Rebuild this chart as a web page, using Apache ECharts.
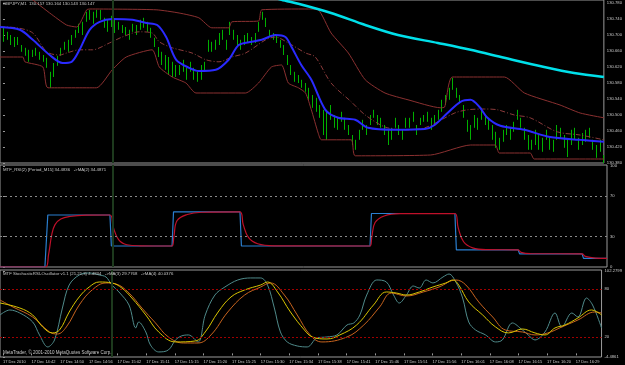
<!DOCTYPE html>
<html><head><meta charset="utf-8">
<script src="https://cdn.jsdelivr.net/npm/echarts@6/dist/echarts.min.js"></script>
<style>html,body{margin:0;padding:0;background:#000}#c{width:625px;height:365px}</style>
</head><body><div id="c"></div>
<script>
// ---------- axis labels ----------
const timeLabels = ['17 Dec 2010','17 Dec 14:42','17 Dec 14:50','17 Dec 14:56','17 Dec 15:02','17 Dec 15:11','17 Dec 15:15','17 Dec 15:20','17 Dec 15:25','17 Dec 15:30','17 Dec 15:34','17 Dec 15:38','17 Dec 15:41','17 Dec 15:46','17 Dec 15:51','17 Dec 15:56','17 Dec 16:01','17 Dec 16:08','17 Dec 16:15','17 Dec 16:20','17 Dec 16:29'];
const timeLabelBars = [0,8,16,24,32,40,48,56,64,72,80,88,96,104,112,120,128,136,144,152,160];
const priceTicks = [130.780,130.740,130.700,130.660,130.620,130.580,130.540,130.500,130.460,130.420,130.380];
const rsiTicks = [100,70,30,0];
const rsiLevels = [70,30];
const stochTicks = [102.2799,80,20,-4.5];
const stochTickText = ['102.2799','80','20','-4.4861'];
const stochLevels = [80,20];
const separatorBar = [30.5];

// ---------- price bars (high / low) ----------
const barHigh = [130.720,130.708,130.700,130.695,130.695,130.675,130.668,130.663,130.663,130.668,130.658,130.650,130.643,130.608,130.630,130.648,130.668,130.683,130.688,130.700,
130.713,130.728,130.733,130.758,130.763,130.758,130.763,130.763,130.743,130.738,130.748,130.738,130.733,130.725,130.720,130.713,130.728,130.725,130.738,130.743,
130.733,130.718,130.693,130.670,130.658,130.650,130.645,130.633,130.625,130.625,130.638,130.618,130.633,130.618,130.608,130.625,130.633,130.688,130.683,130.688,
130.705,130.713,130.688,130.733,130.713,130.700,130.688,130.700,130.705,130.695,130.705,130.733,130.758,130.743,130.713,130.705,130.700,130.688,130.675,130.650,
130.625,130.608,130.600,130.588,130.580,130.568,130.550,130.543,130.525,130.513,130.513,130.525,130.500,130.493,130.508,130.493,130.475,130.450,130.438,130.463,
130.488,130.475,130.500,130.513,130.500,130.493,130.475,130.463,130.468,130.493,130.475,130.463,130.493,130.493,130.508,130.475,130.493,130.500,130.508,130.493,
130.500,130.513,130.538,130.550,130.568,130.593,130.568,130.550,130.525,130.488,130.475,130.500,130.493,130.518,130.500,130.493,130.475,130.458,130.443,130.463,
130.475,130.468,130.483,130.513,130.493,130.468,130.450,130.438,130.463,130.450,130.443,130.463,130.443,130.438,130.475,130.468,130.450,130.438,130.463,130.468,
130.443,130.455,130.463,130.468,130.438,130.425,130.438,130.400];
const barLow = [130.683,130.688,130.675,130.670,130.675,130.658,130.648,130.633,130.645,130.648,130.638,130.633,130.618,130.568,130.595,130.623,130.648,130.663,130.658,130.675,
130.693,130.705,130.700,130.733,130.738,130.728,130.743,130.738,130.718,130.708,130.720,130.705,130.713,130.705,130.700,130.688,130.708,130.700,130.713,130.718,
130.708,130.693,130.670,130.645,130.625,130.613,130.600,130.595,130.595,130.600,130.608,130.588,130.608,130.588,130.583,130.588,130.608,130.658,130.658,130.663,
130.675,130.688,130.663,130.700,130.688,130.675,130.663,130.675,130.680,130.675,130.680,130.708,130.738,130.720,130.695,130.688,130.680,130.668,130.650,130.625,
130.600,130.583,130.580,130.568,130.558,130.538,130.518,130.508,130.493,130.450,130.438,130.488,130.468,130.463,130.483,130.463,130.450,130.425,130.413,130.438,
130.463,130.450,130.475,130.493,130.475,130.468,130.450,130.425,130.438,130.468,130.450,130.438,130.468,130.468,130.483,130.450,130.475,130.483,130.483,130.463,
130.475,130.488,130.508,130.525,130.538,130.563,130.543,130.530,130.493,130.458,130.438,130.468,130.463,130.488,130.475,130.463,130.438,130.418,130.413,130.433,
130.450,130.438,130.458,130.488,130.468,130.438,130.413,130.413,130.425,130.413,130.408,130.438,130.413,130.408,130.438,130.443,130.418,130.395,130.425,130.438,
130.413,130.425,130.433,130.443,130.413,130.393,130.408,130.380];

// ---------- main panel indicator lines [bar, price] ----------
const upperBand = [[7.5,130.793],[9.4,130.780],[13.0,130.755],[17.7,130.725],[20.5,130.720],[23.3,130.763],[24.1,130.765],[42.6,130.763],[49.0,130.755],[54.5,130.743],[58.1,130.718],[62.8,130.718],[63.7,130.733],[71.1,130.735],[72.0,130.763],[85.0,130.765],[87.7,130.763],[91.3,130.705],[96.1,130.655],[100.8,130.588],[106.3,130.555],[112.7,130.538],[121.8,130.518],[122.9,130.520],[125.1,130.595],[139.5,130.595],[145.1,130.555],[155.0,130.525],[160.6,130.505],[167.2,130.493]];
const lowerBand = [[-0.83,130.645],[5.5,130.645],[6.1,130.633],[11.1,130.620],[12.5,130.568],[26.0,130.568],[30.4,130.613],[34.3,130.645],[41.5,130.663],[43.5,130.620],[47.1,130.595],[50.9,130.580],[53.7,130.555],[67.5,130.555],[71.1,130.580],[74.7,130.620],[77.5,130.625],[79.4,130.580],[82.2,130.568],[84.2,130.555],[85.8,130.513],[87.7,130.455],[88.6,130.438],[96.9,130.438],[98.0,130.398],[119.0,130.400],[130.1,130.425],[137.0,130.425],[138.1,130.405],[146.7,130.405],[147.8,130.390],[167.2,130.390]];
const blueMA = [[-0.83,130.720],[4.7,130.713],[8.3,130.688],[13.0,130.650],[16.6,130.630],[19.1,130.633],[21.3,130.663],[24.1,130.713],[26.9,130.733],[30.4,130.740],[36.0,130.738],[39.9,130.730],[42.9,130.725],[45.4,130.695],[48.2,130.638],[51.8,130.618],[54.5,130.610],[59.2,130.613],[62.8,130.638],[65.6,130.675],[69.2,130.683],[72.0,130.688],[75.8,130.700],[78.6,130.695],[80.3,130.670],[83.0,130.625],[85.8,130.588],[89.7,130.513],[93.3,130.493],[98.0,130.488],[101.6,130.468],[109.1,130.463],[117.4,130.465],[120.1,130.475],[123.7,130.505],[127.3,130.533],[130.1,130.538],[132.6,130.520],[134.8,130.493],[138.4,130.473],[145.1,130.463],[152.2,130.445],[160.6,130.438],[167.2,130.433]];
const dashMA = [[-0.83,130.720],[3.9,130.718],[8.3,130.705],[12.2,130.658],[15.8,130.650],[17.7,130.655],[21.3,130.663],[24.9,130.663],[29.6,130.680],[33.2,130.695],[37.9,130.708],[41.5,130.705],[43.5,130.683],[47.1,130.668],[52.6,130.655],[56.5,130.638],[60.1,130.633],[63.7,130.645],[67.5,130.655],[73.1,130.688],[75.8,130.695],[79.4,130.680],[84.2,130.655],[86.9,130.645],[91.3,130.580],[96.9,130.533],[100.8,130.500],[106.3,130.470],[111.8,130.463],[117.4,130.468],[125.7,130.505],[129.3,130.513],[134.0,130.515],[137.6,130.513],[142.3,130.500],[146.7,130.493],[154.2,130.458],[160.6,130.450],[167.2,130.438]];
const cyanMA = [[73.9,130.798],[77.5,130.788],[82.2,130.778],[91.3,130.755],[100.8,130.725],[109.9,130.700],[121.0,130.680],[130.1,130.663],[139.5,130.643],[150.6,130.620],[158.9,130.605],[167.2,130.595]];

// ---------- RSI panel [bar, value] ----------
const rsiBlue = [[-0.83,0],[11.6,0],[12.4,51.5],[29.6,51.5],[30.0,20.8],[46.8,20.8],[47.2,54.5],[65.6,54.5],[66.0,20.8],[101.6,20.8],[102.0,53],[125.1,53],[125.5,17],[142.6,17],[143.0,13],[160.3,13],[160.7,8.5],[167.2,8.5]];
const rsiRed = [[-0.83,0],[11.8,0],[12.6,12],[13.5,32],[14.4,42],[16,47.5],[18.5,50],[23,51.3],[29.6,51.5],[30.5,39.6],[32,27],[34.3,22],[38,21],[46.8,20.8],[47.3,30],[48.2,46],[51,52],[55,54.2],[65.6,54.5],[66.5,42],[68,29],[70.5,23],[75,21],[101.6,20.8],[102.1,30],[103,44],[105.5,50.5],[110,52.8],[125.1,53],[126,39],[127.5,25],[130,19],[134,17.2],[142.6,17],[143.4,14.5],[146,13.2],[160.3,13],[161.2,10.5],[164,8.8],[167.2,8.5]];

// ---------- Stochastic RSI panel [bar, value] ----------
const stochMain = [[-0.83,47.7],[1.9,53.9],[4.7,50.2],[8.3,39.0],[10.2,22.9],[12.5,8.0],[14.4,16.7],[16.6,56.4],[18.5,85.0],[21.3,97.4],[24.1,99.9],[26.9,97.4],[28.8,94.9],[30.4,85.0],[32.4,76.3],[35.2,60.1],[37.1,31.6],[37.9,39.0],[39.9,26.6],[41.2,10.4],[43.5,1.8],[46.2,4.2],[48.2,16.7],[49.8,21.6],[51.8,22.9],[54.5,14.2],[56.5,47.7],[59.2,72.5],[62.0,82.5],[65.6,91.2],[69.2,93.7],[72.0,93.7],[73.9,85.0],[75.8,56.4],[77.5,26.6],[79.4,14.2],[82.2,9.2],[85.0,8.0],[87.7,19.1],[90.5,20.4],[93.3,22.9],[96.1,35.3],[98.0,37.8],[99.7,47.7],[101.6,72.5],[104.4,91.2],[107.1,88.7],[109.1,72.5],[110.7,62.6],[112.7,72.5],[114.6,83.7],[116.3,81.2],[118.2,91.2],[120.1,87.5],[122.9,94.9],[124.6,98.6],[126.5,88.7],[128.4,68.8],[130.1,39.0],[132.0,29.1],[134.8,22.9],[137.6,14.2],[139.5,16.7],[142.3,37.8],[145.1,29.1],[146.7,22.9],[148.6,16.7],[151.4,26.6],[154.2,50.2],[156.1,32.8],[158.9,50.2],[160.6,45.2],[163.0,68.8],[164.7,60.1],[167.2,31.6]];
const stochMA3 = [[-0.83,62.6],[4.7,56.4],[8.3,47.7],[11.1,32.8],[13.8,25.4],[15.8,29.1],[18.5,51.4],[21.3,70.1],[24.1,82.5],[26.9,88.7],[30.4,87.5],[33.2,81.2],[36.0,68.8],[39.9,47.7],[43.5,26.6],[48.2,14.2],[53.7,15.4],[56.5,26.6],[60.1,51.4],[63.7,70.1],[67.5,78.8],[72.0,85.0],[73.9,88.7],[76.7,76.3],[80.3,51.4],[84.2,29.1],[86.4,20.4],[90.5,17.9],[94.1,22.9],[98.8,35.3],[103.5,60.1],[107.1,76.3],[109.9,75.0],[112.7,72.5],[116.3,76.3],[120.1,82.5],[123.7,87.5],[125.7,91.2],[127.3,85.0],[130.1,63.9],[134.0,47.7],[137.6,32.8],[141.2,25.4],[145.1,30.3],[148.6,25.4],[151.4,22.9],[154.2,31.6],[157.0,35.3],[160.6,44.0],[164.4,53.9],[167.2,47.7]];
const stochMA4 = [[-0.83,66.3],[2.8,57.6],[8.3,45.2],[13.0,26.6],[15.2,24.1],[17.7,32.8],[21.3,60.1],[24.9,78.8],[28.8,87.5],[31.6,86.2],[35.2,75.0],[38.8,56.4],[42.6,37.8],[46.2,20.4],[50.4,12.9],[54.5,12.9],[58.1,22.9],[62.8,51.4],[67.5,72.5],[72.0,82.5],[74.7,87.5],[78.6,72.5],[82.2,47.7],[85.8,22.9],[89.1,14.2],[96.1,20.4],[100.8,35.3],[105.2,57.6],[108.5,75.0],[112.7,71.3],[117.4,76.3],[121.8,82.5],[126.5,91.2],[129.3,85.0],[132.9,63.9],[136.8,45.2],[140.3,29.1],[145.1,26.6],[148.6,22.9],[152.2,25.4],[156.1,32.8],[160.6,41.5],[165.3,51.4],[167.2,50.2]];

// ---------- texts ----------
const mainTitle = 'GBPJPY,M1  130.157 130.164 130.143 130.147';
const rsiTitle = 'MTF_RSI(2) [Period_M15] 34.4836   ->MA(2) 34.4871';
const stochTitle = 'MTF StochasticRSI-Oscillator v1.1 (21,21,3) 4.4834   ->MA(3) 29.7768   ->MA(4) 40.0376';
const copyright = 'MetaTrader, \u00a9 2001-2010 MetaQuotes Software Corp.';

// ---------- chart ----------
const F = '"Liberation Sans",Arial,sans-serif';
const TXT = '#c8c8c8';
const BORDER = '#9a9a9a';
const FS = 4.2;
const chart = echarts.init(document.getElementById('c'));
const xCommon = (gi, showLabels) => ({
  gridIndex: gi, type: 'value', min: -0.83, max: 167.2,
  splitLine: {show: false}, axisLine: {show: false},
  axisTick: {show: showLabels, customValues: timeLabelBars, length: 2, lineStyle: {color: BORDER}},
  axisLabel: {show: showLabels, customValues: timeLabelBars, align: 'left', margin: 3,
    color: TXT, fontSize: 4, fontFamily: F,
    formatter: v => timeLabels[timeLabelBars.indexOf(Math.round(v))] || ''}
});
const yCommon = (gi, min, max, ticks, fmt) => ({
  gridIndex: gi, type: 'value', position: 'right', min, max,
  splitLine: {show: false}, axisLine: {show: false},
  axisTick: {show: true, customValues: ticks, length: 2, lineStyle: {color: BORDER}},
  axisLabel: {customValues: ticks, formatter: fmt, color: TXT, fontSize: FS, fontFamily: F, margin: 3}
});
const vline = {silent: true, symbol: 'none', label: {show: false},
  lineStyle: {color: '#1d3a1d', width: 2, type: 'solid'}, data: separatorBar.map(b => ({xAxis: b}))};
const lineS = (xi, data, color, width, extra) => Object.assign({
  type: 'line', xAxisIndex: xi, yAxisIndex: xi, data, showSymbol: false, symbol: 'none',
  smooth: 0.3, clip: true, animation: false,
  lineStyle: {color, width}
}, extra || {});
const titleS = (text, top, fs) => ({text, left: 3, top, padding: 0,
  textStyle: {color: TXT, fontSize: fs, fontWeight: 'normal', fontFamily: F}});

chart.setOption({
  backgroundColor: '#000',
  animation: false,
  title: [titleS(mainTitle, 2, 4.3), titleS(rsiTitle, 168, 4.3), titleS(stochTitle, 272, 4.3), titleS(copyright, 350, 4.5)],
  grid: [
    {left: 0, top: 0, width: 607, height: 163, show: true, borderColor: BORDER, borderWidth: 1, backgroundColor: 'transparent'},
    {left: 0, top: 165, width: 607, height: 102, show: true, borderColor: BORDER, borderWidth: 1, backgroundColor: 'transparent'},
    {left: 0, top: 270, width: 607, height: 87, show: true, borderColor: BORDER, borderWidth: 1, backgroundColor: 'transparent'}
  ],
  xAxis: [xCommon(0, false), xCommon(1, false), xCommon(2, true)],
  yAxis: [
    yCommon(0, 130.380, 130.7875, priceTicks, v => v.toFixed(3)),
    yCommon(1, 0, 101, rsiTicks, v => String(v)),
    yCommon(2, -4.5, 103.6, stochTicks, v => { const i = stochTicks.findIndex(t => Math.abs(t - v) < 1e-6); return i >= 0 ? stochTickText[i] : ''; })
  ],
  series: [
    {type: 'custom', xAxisIndex: 0, yAxisIndex: 0, clip: true, animation: false,
      data: barHigh.map((h, i) => [i, h, barLow[i]]),
      encode: {x: 0, y: [1, 2]},
      renderItem: (params, api) => {
        const x = api.value(0);
        const a = api.coord([x, api.value(1)]);
        const b = api.coord([x, api.value(2)]);
        const px = Math.round(a[0]) + 0.5;
        return {type: 'line', shape: {x1: px, y1: a[1], x2: px, y2: b[1]},
          style: {stroke: '#00b000', lineWidth: 1}};
      },
      markLine: vline
    },
    lineS(0, upperBand, '#8a3030', 1, {smooth: 0.2}),
    lineS(0, lowerBand, '#8a3030', 1, {smooth: 0.2}),
    lineS(0, dashMA, '#8a3a3a', 1, {lineStyle: {color: '#8a3a3a', width: 1, type: [5, 2, 1, 2]}}),
    lineS(0, blueMA, '#2a2aff', 2),
    lineS(0, cyanMA, '#00e0ea', 2.5),
    lineS(1, rsiBlue, '#2a7fd0', 1.2, {smooth: false,
      markLine: {silent: true, symbol: 'none', label: {show: false},
        lineStyle: {color: '#8a8a8a', width: 1, type: [2, 3]}, data: rsiLevels.map(v => ({yAxis: v}))}}),
    lineS(1, rsiRed, '#c0102a', 1.2, {smooth: 0.4, markLine: vline}),
    lineS(2, stochMain, '#4f8a8a', 1, {smooth: 0.35,
      markLine: {silent: true, symbol: 'none', label: {show: false},
        lineStyle: {color: '#a00000', width: 1, type: [2, 2]}, data: stochLevels.map(v => ({yAxis: v}))}}),
    lineS(2, stochMA4, '#c8641e', 1, {smooth: 0.4}),
    lineS(2, stochMA3, '#d8c400', 1, {smooth: 0.4, markLine: vline})
  ]
});
</script></body></html>
